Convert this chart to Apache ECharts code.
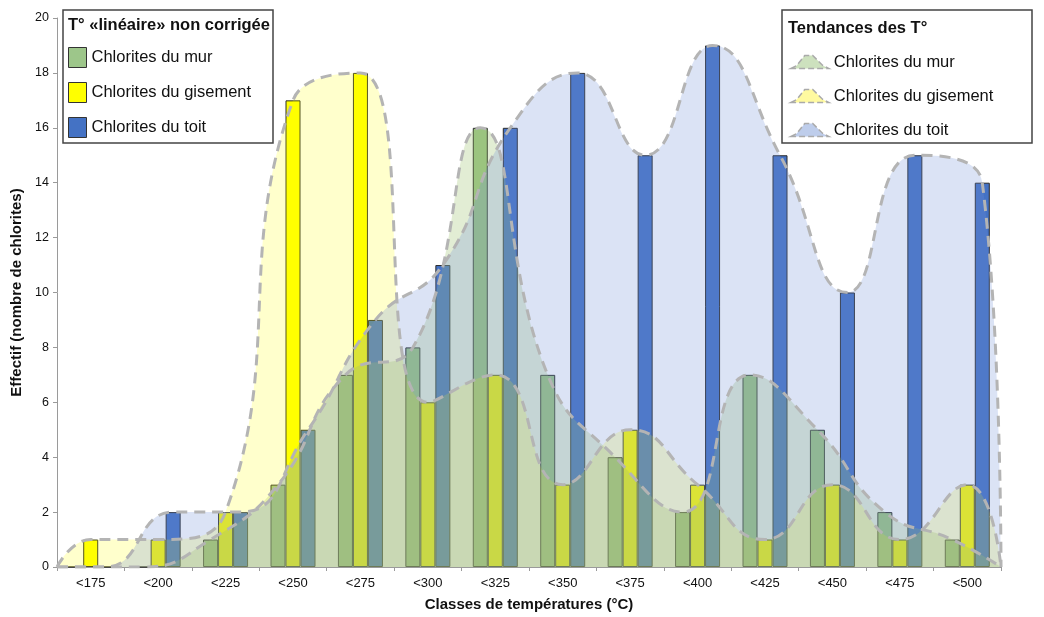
<!DOCTYPE html>
<html>
<head>
<meta charset="utf-8">
<script src="https://cdn.jsdelivr.net/npm/echarts@6/dist/echarts.min.js"></script>
<style>
html,body{margin:0;padding:0;background:#fff;}
#chart{width:1044px;height:617px;}
</style>
</head>
<body>
<div id="chart"></div>
<script>
// ---- data ----
const categories = ['<175','<200','<225','<250','<275','<300','<325','<350','<375','<400','<425','<450','<475','<500'];
const murValues      = [0, 0, 1, 3, 7, 8, 16, 7, 4, 2, 7, 5, 2, 1];
const gisementValues = [1, 1, 2, 17, 18, 6, 7, 3, 5, 3, 1, 3, 1, 3];
const toitValues     = [0, 2, 2, 5, 9, 11, 16, 18, 15, 19, 15, 10, 15, 14];
// trend curves follow the same counts, anchored at 0 on both ends of the axis
const trendMur      = murValues;
const trendGisement = gisementValues;
const trendToit     = toitValues;
const yMin = 0, yMax = 20, yInterval = 2;

const seriesNames = ['Chlorites du mur', 'Chlorites du gisement', 'Chlorites du toit'];
const trendNames = ['Chlorites du mur ', 'Chlorites du gisement ', 'Chlorites du toit '];

// ---- layout ----
const W = 1044, H = 617;
const grid = {left: 57, right: 43, top: 18, bottom: 49};
const plotW = W - grid.left - grid.right;
const catW = plotW / categories.length;
const barW = 15;
const off = barW / catW; // bar offset in category units

function trend(values, shift) {
  const pts = [[0, 0]];
  values.forEach((v, i) => pts.push([i + 0.5 + shift, v]));
  pts.push([categories.length, 0]);
  return pts;
}

const colMur = '#9dc68a', colGis = '#ffff00', colToit = '#4472c4';
const areaMur = 'rgba(150,190,100,0.28)';
const areaGis = 'rgba(255,255,0,0.2)';
const areaToit = 'rgba(110,145,215,0.25)';
const dash = {color: '#b4b4b4', width: 3, type: [11, 7]};

const chart = echarts.init(document.getElementById('chart'), null, {renderer: 'canvas'});
const barStyle = c => ({color: c, borderColor: '#2a2a2a', borderWidth: 1});
const font = 'Liberation Sans, Arial, sans-serif';

function lineSeries(name, data, area) {
  return {
    name: name, type: 'line', xAxisIndex: 1, yAxisIndex: 0,
    data: data, smooth: 0.5, symbol: 'none',
    lineStyle: dash, itemStyle: {color: area},
    areaStyle: {color: area, opacity: 1},
    z: 3, silent: true
  };
}

const option = {
  backgroundColor: '#fff',
  animation: false,
  textStyle: {fontFamily: font},
  grid: {left: grid.left, right: grid.right, top: grid.top, bottom: grid.bottom, containLabel: false},
  xAxis: [{
    type: 'category', data: categories, boundaryGap: true,
    axisLine: {lineStyle: {color: '#9a9a9a', width: 1}},
    axisTick: {show: true, length: 4, lineStyle: {color: '#9a9a9a'}},
    axisLabel: {color: '#111', fontSize: 13, margin: 10, fontFamily: font},
    name: 'Classes de températures (°C)', nameLocation: 'middle', nameGap: 30,
    nameTextStyle: {fontWeight: 'bold', fontSize: 15, color: '#111', fontFamily: font},
    splitLine: {show: false}
  }, {
    type: 'value', min: 0, max: categories.length, show: false
  }],
  yAxis: [{
    type: 'value', min: yMin, max: yMax, interval: yInterval,
    axisLine: {show: true, lineStyle: {color: '#9a9a9a'}},
    axisTick: {show: true, length: 4, lineStyle: {color: '#9a9a9a'}},
    axisLabel: {color: '#111', fontSize: 12.5, margin: 8, fontFamily: font},
    splitLine: {show: false},
    name: 'Effectif (nombre de chlorites)', nameLocation: 'middle', nameGap: 31, nameRotate: 90,
    nameTextStyle: {fontWeight: 'bold', fontSize: 15, color: '#111', fontFamily: font}
  }],
  legend: [{
    data: seriesNames, orient: 'vertical', left: 63, top: 42,
    itemWidth: 18, itemHeight: 20, itemGap: 14, icon: 'rect',
    itemStyle: {borderColor: '#333', borderWidth: 1},
    textStyle: {fontSize: 16.5, lineHeight: 20, color: '#111', fontFamily: font},
    selectedMode: false, z: 60
  }, {
    data: [
      {name: trendNames[0], itemStyle: {color: 'rgba(205,225,190,1)', borderColor: '#aaa', borderWidth: 1.5, borderType: 'dashed'}},
      {name: trendNames[1], itemStyle: {color: 'rgba(255,250,160,1)', borderColor: '#aaa', borderWidth: 1.5, borderType: 'dashed'}},
      {name: trendNames[2], itemStyle: {color: 'rgba(190,205,235,1)', borderColor: '#aaa', borderWidth: 1.5, borderType: 'dashed'}}
    ],
    orient: 'vertical', left: 785, top: 47,
    itemWidth: 38, itemHeight: 15, itemGap: 14,
    icon: 'path://M0,15 L6,12 L14,2 L22,2 L32,12 L38,15 Z',
    textStyle: {fontSize: 16.5, lineHeight: 20, color: '#111', fontFamily: font},
    selectedMode: false, z: 60
  }],
  graphic: [
    {type: 'rect', shape: {x: 63, y: 10, width: 210, height: 133}, style: {fill: '#fff', stroke: '#444', lineWidth: 1.5}, z: 50},
    {type: 'text', x: 68, y: 25, style: {text: 'T° «linéaire» non corrigée', font: 'bold 16.5px ' + font, fill: '#111', textVerticalAlign: 'middle'}, z: 55},
    {type: 'rect', shape: {x: 782, y: 10, width: 250, height: 133}, style: {fill: '#fff', stroke: '#444', lineWidth: 1.5}, z: 50},
    {type: 'text', x: 788, y: 28, style: {text: 'Tendances des T°', font: 'bold 16.5px ' + font, fill: '#111', textVerticalAlign: 'middle'}, z: 55}
  ],
  series: [
    {name: seriesNames[0], type: 'bar', data: murValues, barWidth: barW, barGap: '0%', itemStyle: barStyle(colMur), z: 2},
    {name: seriesNames[1], type: 'bar', data: gisementValues, barWidth: barW, barGap: '0%', itemStyle: barStyle(colGis), z: 2},
    {name: seriesNames[2], type: 'bar', data: toitValues, barWidth: barW, barGap: '0%', itemStyle: barStyle(colToit), z: 2},
    lineSeries(trendNames[0], trend(trendMur, -off), areaMur),
    lineSeries(trendNames[1], trend(trendGisement, 0), areaGis),
    lineSeries(trendNames[2], trend(trendToit, off), areaToit)
  ]
};
chart.setOption(option);
</script>
</body>
</html>
